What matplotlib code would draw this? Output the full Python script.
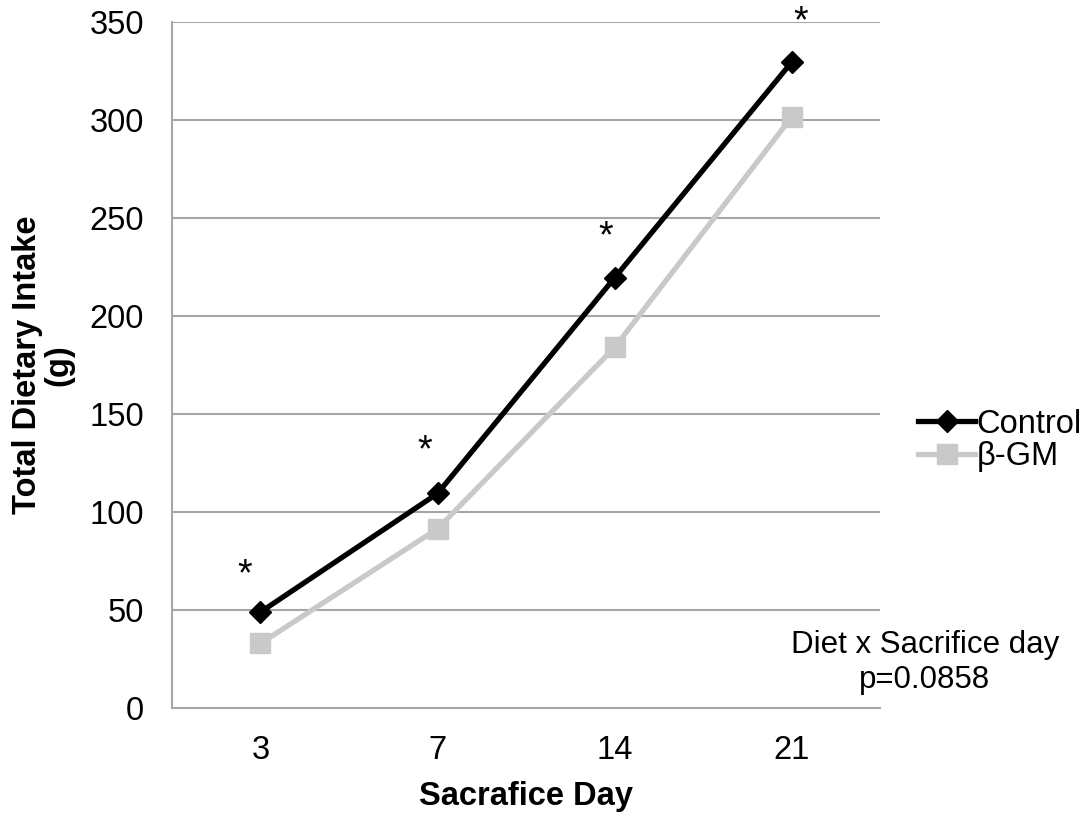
import matplotlib
matplotlib.use('Agg')
import matplotlib.pyplot as plt

plt.rcParams['font.family'] = ['Liberation Sans', 'DejaVu Sans']

# Total dietary intake (g) per sacrifice day
days = ['3', '7', '14', '21']
control = [49, 109.5, 219.5, 329.5]
beta_gm = [33, 91.5, 184, 301.5]
star_y = [68, 131, 240, 350]
star_dx = [-0.09, -0.07, -0.05, 0.05]

fs = 23.5

fig = plt.figure(figsize=(10.88, 8.14), dpi=100)
ax = fig.add_axes([0.158, 0.130, 0.651, 0.843])

x = [i + 0.5 for i in range(len(days))]
ax.plot(x, control, color='black', lw=3.8, marker='D', markersize=11,
        label='Control', zorder=4)
ax.plot(x, beta_gm, color='#c9c9c9', lw=3.8, marker='s', markersize=14,
        label='\u03b2-GM', zorder=3)

# significance marks
for xi, yi, dx in zip(x, star_y, star_dx):
    ax.text(xi + dx, yi, '*', ha='center', va='center', fontsize=27,
            clip_on=False)

ax.set_xlim(0, 4)
ax.set_ylim(0, 350)
ax.set_yticks(range(0, 351, 50))
ax.set_xticks(x)
ax.set_xticklabels(days)
ax.tick_params(axis='y', length=0, labelsize=fs, pad=20)
ax.tick_params(axis='x', length=0, labelsize=fs, pad=19)
ax.yaxis.grid(True, color='#a6a6a6', lw=1.5)
ax.set_axisbelow(True)
for s in ['top', 'right']:
    ax.spines[s].set_visible(False)
for s in ['left', 'bottom']:
    ax.spines[s].set_color('#a6a6a6')
    ax.spines[s].set_linewidth(1.5)

ax.set_xlabel('Sacrafice Day', fontsize=fs, fontweight='bold', labelpad=11)
ax.set_ylabel('Total Dietary Intake\n(g)', fontsize=fs, fontweight='bold',
              labelpad=11, linespacing=1.0)

ax.legend(loc='center left', bbox_to_anchor=(1.035, 0.39), frameon=False,
          fontsize=fs, handlelength=1.75, handletextpad=0.05,
          labelspacing=0.05, borderaxespad=0.0)

fig.text(0.850, 0.186, 'Diet x Sacrifice day\np=0.0858', ha='center',
         va='center', fontsize=22.5, linespacing=1.25)

fig.savefig('out.png', dpi=100)
